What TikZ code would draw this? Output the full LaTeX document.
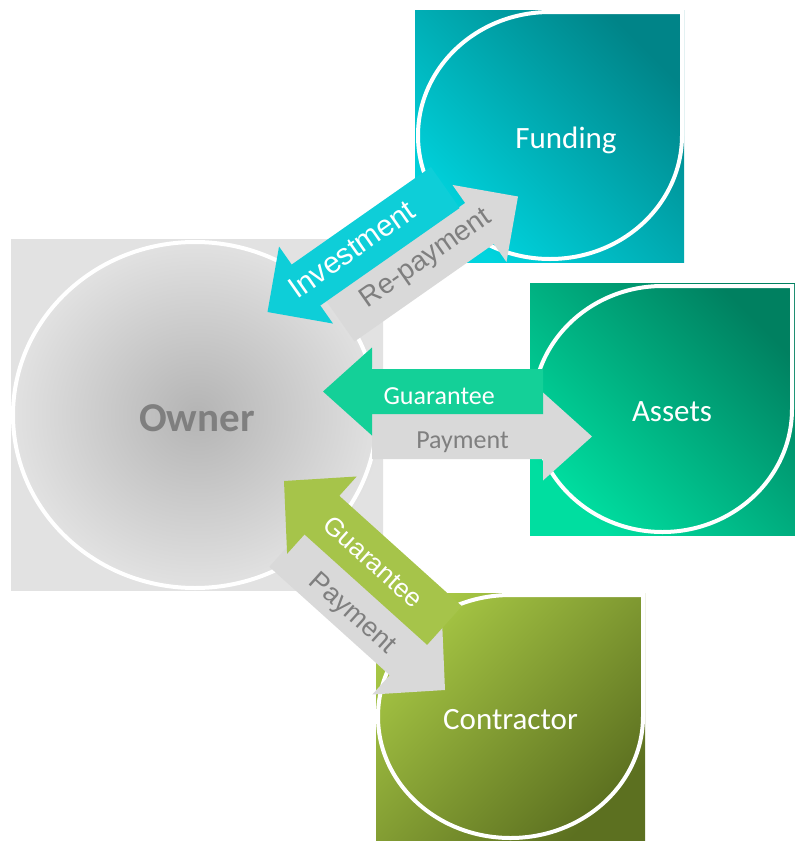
\documentclass[tikz,border=0pt]{standalone}
\usepackage{fontspec}
\setmainfont{Carlito}
\newfontfamily\arialf{Liberation Sans}
\definecolor{fundLight}{RGB}{0,212,222}
\definecolor{fundDark}{RGB}{0,132,136}
\definecolor{assLight}{RGB}{0,222,160}
\definecolor{assDark}{RGB}{0,128,96}
\definecolor{conLight}{RGB}{166,198,68}
\definecolor{conDark}{RGB}{92,112,32}
\definecolor{ownIn}{RGB}{180,180,180}
\definecolor{ownOut}{RGB}{226,226,226}
\definecolor{arrCyan}{RGB}{14,206,216}
\definecolor{arrGreen}{RGB}{20,208,152}
\definecolor{arrOlive}{RGB}{166,196,74}
\definecolor{arrGray}{RGB}{217,217,217}
\definecolor{txtGray}{RGB}{127,127,127}
\tikzset{
  whiteline/.style={draw=white, line width=4pt},
  wlbl/.style={text=white, inner sep=0pt, anchor=base},
  glbl/.style={text=txtGray, inner sep=0pt, anchor=base},
}
% #1 colour, #2 tip, #3 direction, #4 length, #5 shaft width, #6 head half width, #7 head length
\newcommand{\blkarrow}[7]{%
  \fill[#1, shift={#2}, rotate=#3] (0,0) -- (-#7,#6) -- (-#7,#5/2) -- (-#4,#5/2)
    -- (-#4,-#5/2) -- (-#7,-#5/2) -- (-#7,-#6) -- cycle;}
% teardrop outline in box x0 y0 x1 y1 (sharp corner top right)
\newcommand{\teardrop}[4]{%
  \draw[whiteline] (#3,#2) -- ({(#1+#3)/2},#2)
    arc[start angle=-90, end angle=-180, x radius={(#3-#1)/2}, y radius={(#4-#2)/2}]
    arc[start angle=180, end angle=90, x radius={(#3-#1)/2}, y radius={(#4-#2)/2}]
    arc[start angle=90, end angle=0, x radius={(#3-#1)/2}, y radius={(#4-#2)/2}]
    -- cycle;}
\begin{document}
\begin{tikzpicture}[x=1pt, y=-1pt]
\useasboundingbox (0,0) rectangle (795,841);
% Owner
\shade[inner color=ownIn, outer color=ownOut] (11,239) rectangle (383,590);
\draw[whiteline] (195,415) ellipse [x radius=182, y radius=173];
% Funding
\shade[top color=fundDark, bottom color=fundLight, shading angle=-45] (415,10) rectangle (684,262);
\teardrop{418}{12}{682}{259}
% Assets
\shade[top color=assDark, bottom color=assLight, shading angle=-45] (530,283) rectangle (795,535);
\teardrop{533}{286}{792}{532}
% Contractor
\shade[top color=conLight, bottom color=conDark, shading angle=45] (376,593) rectangle (645,841);
\teardrop{378}{595}{643}{838}
% arrows Owner - Funding
\blkarrow{arrGray}{(518,196.5)}{35}{217}{50}{47}{47}
\blkarrow{arrCyan}{(267.5,312)}{215}{217}{50}{47}{47}
% arrows Owner - Assets
\blkarrow{arrGray}{(592,436.5)}{0}{220}{45}{44}{49}
\blkarrow{arrGreen}{(323,391.5)}{180}{220}{45}{44}{49}
% arrows Owner - Contractor
\blkarrow{arrGray}{(445,690)}{-42}{213}{52}{52}{51}
\blkarrow{arrOlive}{(284,481)}{138}{216}{52}{52}{51}
% labels
\node[glbl, font=\bfseries\fontsize{41}{41}\selectfont] (owner) at (197,431.5) {Owner};
\node[wlbl, font=\fontsize{31}{31}\selectfont] (funding) at (566,148.3) {Funding};
\node[wlbl, font=\fontsize{31}{31}\selectfont] (assets) at (672,421) {Assets};
\node[wlbl, font=\fontsize{31}{31}\selectfont] (contractor) at (510.5,729.3) {Contractor};
\node[wlbl, font=\fontsize{26}{26}\selectfont] (hguar) at (439.2,404) {Guarantee};
\node[glbl, font=\fontsize{26}{26}\selectfont] (hpay) at (462.5,448.3) {Payment};
\node[wlbl, font=\arialf\fontsize{30}{30}\selectfont, rotate=35] (invest) at (357.5,257.8) {Investment};
\node[glbl, font=\arialf\fontsize{28}{28}\selectfont, rotate=35] (repay) at (430,264.5) {Re-payment};
\node[wlbl, font=\arialf\fontsize{26}{26}\selectfont, rotate=-42] (dguar) at (367.5,568.3) {Guarantee};
\node[glbl, font=\arialf\fontsize{27}{27}\selectfont, rotate=-42] (dpay) at (347.5,619) {Payment};
\end{tikzpicture}
\end{document}
